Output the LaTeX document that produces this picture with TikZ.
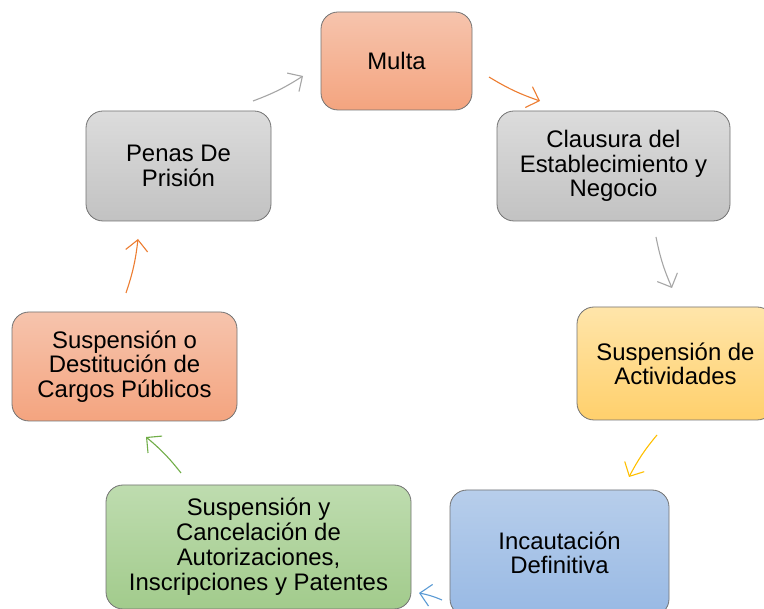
\documentclass[tikz,border=0pt]{standalone}
\usepackage{fontspec}
\setmainfont{Liberation Sans}
\usetikzlibrary{arrows.meta}
\definecolor{boxline}{HTML}{727272}
\definecolor{orTop}{HTML}{F6C4AD}
\definecolor{orBot}{HTML}{F4A47F}
\definecolor{grTop}{HTML}{DCDCDC}
\definecolor{grBot}{HTML}{C2C2C2}
\definecolor{yeTop}{HTML}{FFE5AA}
\definecolor{yeBot}{HTML}{FFD06C}
\definecolor{blTop}{HTML}{B7CEEB}
\definecolor{blBot}{HTML}{98B9E4}
\definecolor{gnTop}{HTML}{BEDCAF}
\definecolor{gnBot}{HTML}{A2CB8C}
\definecolor{aGray}{HTML}{A6A6A6}
\definecolor{aOrange}{HTML}{ED7D31}
\definecolor{aYellow}{HTML}{FFC000}
\definecolor{aBlue}{HTML}{5B9BD5}
\definecolor{aGreen}{HTML}{70AD47}
\begin{document}
\begin{tikzpicture}[x=1pt,y=-1pt,
  box/.style={draw=boxline, line width=0.8pt, rounded corners=17pt, align=center,
    font=\fontsize{23.9}{24.3}\selectfont, inner sep=0pt},
  arr/.style={line width=1.1pt, -{Straight Barb[length=11pt,width=22pt]}, bend right=6}]
\clip (0,0) rectangle (764,609);
\fill[white] (0,0) rectangle (764,609);
\node[box, top color=orTop, bottom color=orBot, minimum width=151pt, minimum height=98pt] (multa) at (396.5,61) {Multa};
\node[box, top color=grTop, bottom color=grBot, minimum width=233pt, minimum height=110pt] (clausura) at (613.5,166) {Clausura del\\Establecimiento y\\Negocio};
\node[box, top color=yeTop, bottom color=yeBot, minimum width=197pt, minimum height=113pt] (actividades) at (675.5,363.5) {Suspensión de\\Actividades};
\node[box, top color=blTop, bottom color=blBot, minimum width=219pt, minimum height=126pt] (incautacion) at (559.5,553) {Incautación\\Definitiva};
\node[box, top color=gnTop, bottom color=gnBot, minimum width=305pt, minimum height=124pt, font=\fontsize{23.9}{25}\selectfont] (cancelacion) at (258.5,547) {Suspensión y\\Cancelación de\\Autorizaciones,\\Inscripciones y Patentes};
\node[box, top color=orTop, bottom color=orBot, minimum width=225pt, minimum height=109pt] (destitucion) at (124.5,366.5) {Suspensión o\\Destitución de\\Cargos Públicos};
\node[box, top color=grTop, bottom color=grBot, minimum width=185pt, minimum height=110pt] (penas) at (178.5,166) {Penas De\\Prisión};
\coordinate (a1s) at (489,77);  \coordinate (a1e) at (540,101);
\coordinate (a2s) at (656,237); \coordinate (a2e) at (672,288);
\coordinate (a3s) at (657,435); \coordinate (a3e) at (629,477);
\coordinate (a4s) at (442,600); \coordinate (a4e) at (419,593);
\coordinate (a5s) at (181,473); \coordinate (a5e) at (146,437);
\coordinate (a6s) at (126,293); \coordinate (a6e) at (138,239);
\coordinate (a7s) at (253,101); \coordinate (a7e) at (303,76);
\draw[arr, aOrange] (a1s) to (a1e);
\draw[arr, aGray] (a2s) to (a2e);
\draw[arr, aYellow] (a3s) to (a3e);
\draw[arr, aBlue] (a4s) to (a4e);
\draw[arr, aGreen] (a5s) to (a5e);
\draw[arr, aOrange] (a6s) to (a6e);
\draw[arr, aGray] (a7s) to (a7e);
\end{tikzpicture}
\end{document}
